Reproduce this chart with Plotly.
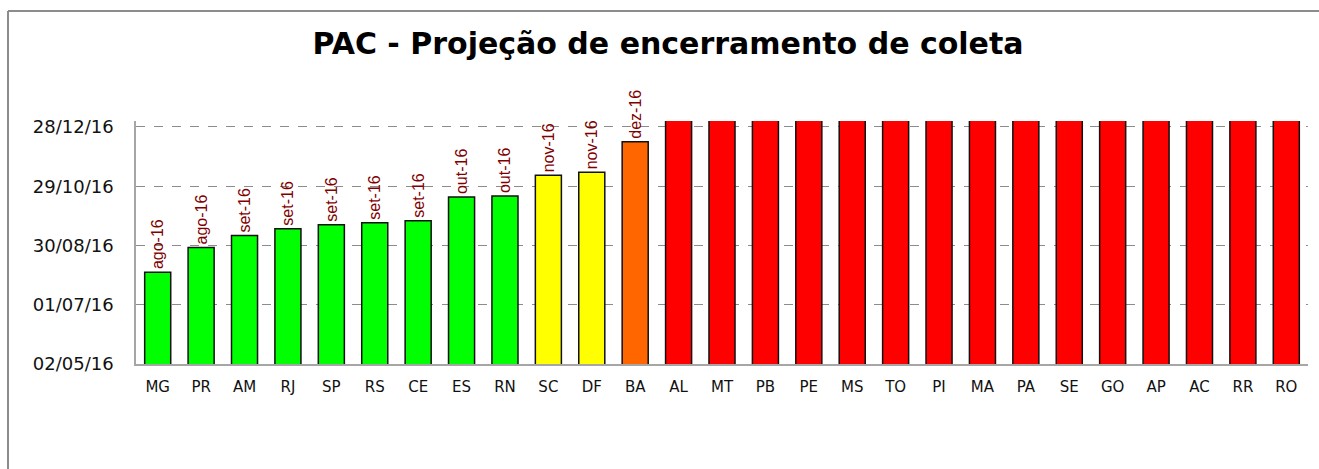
import plotly.graph_objects as go

# ---- data ----
states = ["MG", "PR", "AM", "RJ", "SP", "RS", "CE", "ES", "RN", "SC", "DF", "BA",
          "AL", "MT", "PB", "PE", "MS", "TO", "PI", "MA", "PA", "SE", "GO", "AP",
          "AC", "RR", "RO"]
end_dates = ["2016-08-03", "2016-08-28", "2016-09-09", "2016-09-16", "2016-09-20",
             "2016-09-22", "2016-09-24", "2016-10-18", "2016-10-19", "2016-11-09",
             "2016-11-12", "2016-12-13"] + ["2017-06-30"] * 15
month_labels = ["ago-16", "ago-16", "set-16", "set-16", "set-16", "set-16", "set-16",
                "out-16", "out-16", "nov-16", "nov-16", "dez-16"] + [""] * 15
status = ["ok"] * 9 + ["alerta"] * 2 + ["atraso"] + ["critico"] * 15
y_tickvals = ["2016-05-02", "2016-07-01", "2016-08-30", "2016-10-29", "2016-12-28"]
y_range = ["2016-05-02", "2017-01-03"]
title = "PAC - Projeção de encerramento de coleta"

# ---- style ----
status_colors = {"ok": "#00FF00", "alerta": "#FFFF00", "atraso": "#FF6600", "critico": "#FF0000"}
colors = [status_colors[s] for s in status]

fig = go.Figure(go.Bar(
    x=states, y=end_dates,
    marker=dict(color=colors, line=dict(color="#111111", width=1.5)),
    text=month_labels, textposition="outside", textangle=-90, constraintext="none",
    textfont=dict(family="Liberation Sans", size=16, color="#7F0000"),
    cliponaxis=False, hoverinfo="skip",
))

W, H = 1319, 469
ml, mr, mt, mb = 136, 11, 121, 105
pw, ph = W - ml - mr, H - mt - mb
bx = (8 - ml) / pw
by = (H - mb - 11) / ph

fig.update_layout(
    width=W, height=H,
    margin=dict(l=ml, r=mr, t=mt, b=mb, autoexpand=False),
    paper_bgcolor="white", plot_bgcolor="white",
    bargap=0.4, showlegend=False,
    title=dict(text=title, x=668 / W, xref="container", y=1 - 43 / H, yanchor="middle",
               xanchor="center",
               font=dict(family="DejaVu Sans", size=30, color="black", weight="bold")),
    xaxis=dict(type="category", showgrid=False, showline=True, linecolor="#A6A6A6",
               linewidth=1.5, ticks="", tickfont=dict(family="DejaVu Sans", size=15, color="#111111"),
               ticklabelstandoff=8),
    yaxis=dict(type="date", range=y_range, tickvals=y_tickvals, tickformat="%d/%m/%y",
               showgrid=True, gridcolor="#8C8C8C", griddash="dash", gridwidth=1,
               showline=True, linecolor="#A6A6A6", linewidth=1.5, ticks="",
               tickfont=dict(family="DejaVu Sans", size=18, color="#111111"),
               ticklabelstandoff=17, zeroline=False),
    shapes=[
        dict(type="line", xref="paper", yref="paper", x0=bx, x1=bx, y0=by, y1=-1,
             line=dict(color="#8C8C8C", width=2)),
        dict(type="line", xref="paper", yref="paper", x0=bx, x1=1.2, y0=by, y1=by,
             line=dict(color="#8C8C8C", width=2)),
    ],
)

fig.write_html("out.html", config={"displayModeBar": False},
               post_script="document.body.style.margin='0px';")
